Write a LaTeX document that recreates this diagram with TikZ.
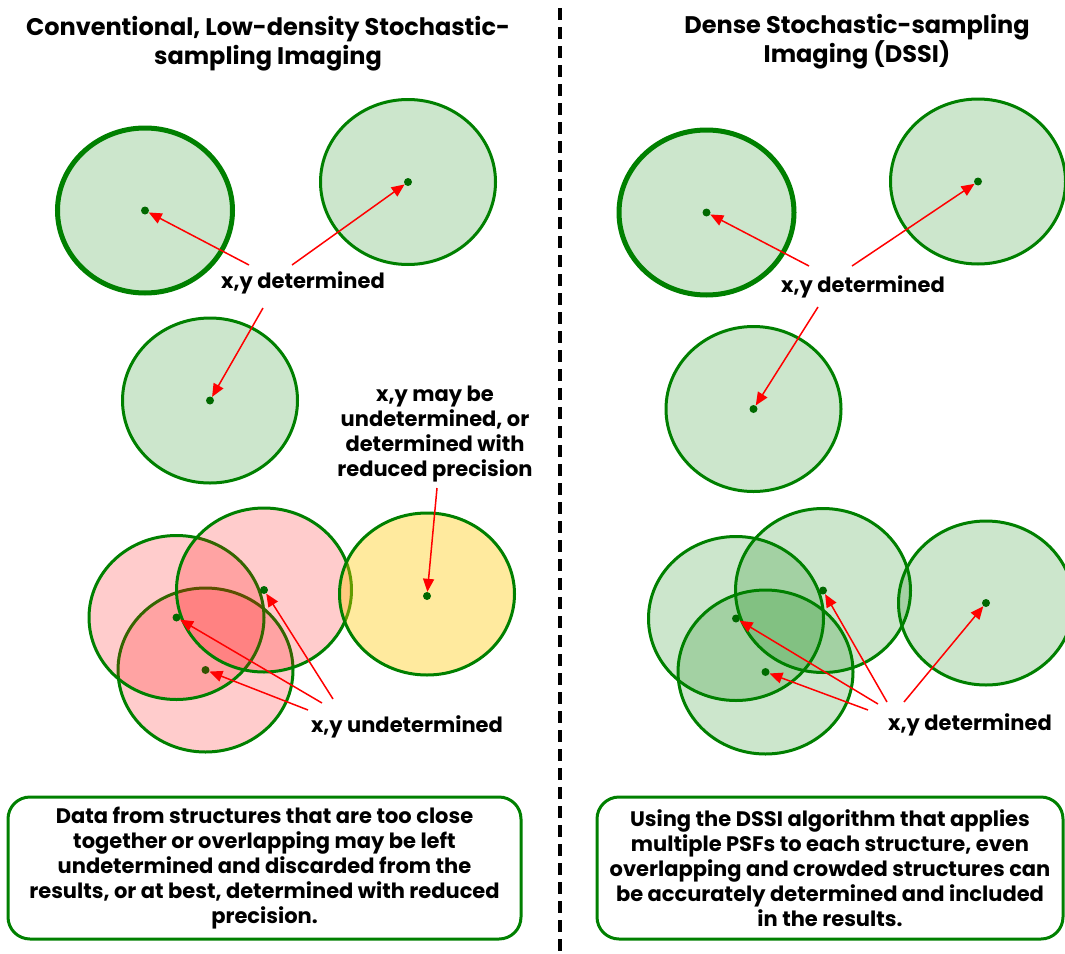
\documentclass[tikz,border=0pt]{standalone}
\usepackage{fontspec}
\setmainfont{Poppins}
\usepackage{xcolor}
\usepackage{tikz}
\usetikzlibrary{arrows.meta,positioning}

\definecolor{psfgreen}{RGB}{0,128,0}
\definecolor{dotgreen}{RGB}{0,105,0}
\definecolor{psfyellow}{RGB}{255,200,0}

\tikzset{
  psf/.style={draw=psfgreen, line width=3pt, fill=psfgreen, fill opacity=0.2},
  psfpink/.style={draw=psfgreen, line width=3pt, fill=red, fill opacity=0.2},
  psfyel/.style={draw=psfgreen, line width=3pt, fill=psfyellow, fill opacity=0.38},
  spot/.style={circle, fill=dotgreen, inner sep=0pt, minimum size=8pt},
  ptr/.style={red, line width=1.5pt, -{Triangle[length=13pt,width=11pt]}},
  lbl/.style={font=\bfseries\fontsize{21}{25}\selectfont, align=center, inner sep=0pt},
  ttl/.style={font=\bfseries\fontsize{24}{29}\selectfont, align=center, inner sep=0pt},
  note/.style={draw=psfgreen, line width=3pt, rounded corners=22pt, align=center,
    font=\bfseries\fontsize{21}{25}\selectfont},
}

\begin{document}
\begin{tikzpicture}[x=1pt, y=-1pt]
\useasboundingbox (0,0) rectangle (1065,953);

% Titles
\node[ttl] (ttlL) at (268,44) {Conventional, Low-density Stochastic-\\sampling Imaging};
\node[ttl] (ttlR) at (857,42) {Dense Stochastic-sampling\\Imaging (DSSI)};

% Divider
\draw[line width=4pt, dash pattern=on 12pt off 7pt] (560,8) -- (560,953);

% Left: well separated emitters
\foreach \n/\cx/\cy/\w in {A/145/210.5/5, B/408/182/3, C/210/400.5/3} {
  \draw[psf, line width=\w pt] (\cx,\cy) ellipse [x radius=87.5pt, y radius=82.5pt];
  \node[spot] (L\n) at (\cx,\cy) {};
}

% Right: well separated emitters
\foreach \n/\cx/\cy/\w in {A/706.5/212.5/5, B/978/181.5/3, C/753.5/409/3} {
  \draw[psf, line width=\w pt] (\cx,\cy) ellipse [x radius=87.5pt, y radius=82.5pt];
  \node[spot] (R\n) at (\cx,\cy) {};
}

% Left: crowded emitters (P3 first, so P1 and P2 lie on top)
\foreach \n/\cx/\cy in {P3/205.5/670, P1/176.5/617.5, P2/264/590} {
  \draw[psfpink] (\cx,\cy) ellipse [x radius=87.5pt, y radius=82pt];
  \node[spot] (L\n) at (\cx,\cy) {};
}
\draw[psfyel] (427,594) ellipse [x radius=87.5pt, y radius=81pt];
\node[spot] (LY) at (427,596) {};

% Right: crowded emitters
\foreach \n/\cx/\cy in {G3/765.5/672, G1/736/618.5, G2/823/590.5, G4/986/603} {
  \draw[psf] (\cx,\cy) ellipse [x radius=87.5pt, y radius=82pt];
  \node[spot] (R\n) at (\cx,\cy) {};
}

% Labels
\node[lbl] (detL) at (303,283) {x,y determined};
\node[lbl] (maybe) at (435,434.5) {x,y may be\\undetermined, or\\determined with\\reduced precision};
\node[lbl] (undet) at (407,727) {x,y undetermined};
\node[lbl] (detR) at (863,287) {x,y determined};
\node[lbl] (detR2) at (970,725) {x,y determined};

% Arrow tails
\coordinate (tLA) at (249,265);
\coordinate (tLB) at (292,265);
\coordinate (tLC) at (263,308);
\coordinate (tLY) at (437,488);
\coordinate (tP2) at (333,699);
\coordinate (tP1) at (322,703);
\coordinate (tP3) at (308,710);
\coordinate (tRA) at (809,266);
\coordinate (tRB) at (852,266);
\coordinate (tRC) at (818,307);
\coordinate (tG2) at (887,702);
\coordinate (tG1) at (878,704);
\coordinate (tG3) at (868,710);
\coordinate (tG4) at (904,702);

% Arrows
\foreach \t/\d in {tLA/LA, tLB/LB, tLC/LC, tLY/LY, tP2/LP2, tP1/LP1, tP3/LP3,
                   tRA/RA, tRB/RB, tRC/RC, tG2/RG2, tG1/RG1, tG3/RG3, tG4/RG4}
  \draw[ptr] (\t) -- (\d);

% Notes
\node[note, minimum width=513pt, minimum height=142pt] (noteL) at (264.5,868)
  {Data from structures that are too close\\together or overlapping may be left\\undetermined and discarded from the\\results, or at best, determined with reduced\\precision.};
\node[note, minimum width=466pt, minimum height=142pt] (noteR) at (830,868)
  {Using the DSSI algorithm that applies\\multiple PSFs to each structure, even\\overlapping and crowded structures can\\be accurately determined and included\\in the results.};
\end{tikzpicture}
\end{document}
